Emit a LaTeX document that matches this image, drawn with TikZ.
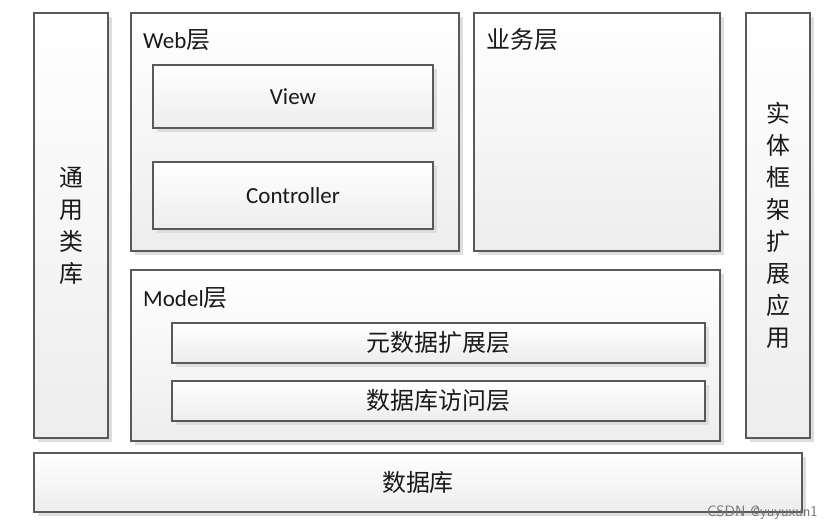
\documentclass[tikz,border=0pt]{standalone}
\usepackage{fontspec}
\setmainfont{Carlito}
\newfontfamily\cjk{Noto Sans CJK SC}[Scale=1.04]
\usetikzlibrary{shadows}
\begin{document}
\begin{tikzpicture}[x=1pt,y=-1pt,
  box/.style={draw=black!65, line width=1.2pt, top color=white, bottom color=black!7,
    drop shadow={shadow xshift=3.5pt, shadow yshift=-3.5pt, fill=black!13, opacity=1}},
  lbl/.style={font=\fontsize{23}{26}\selectfont, text=black!90, inner sep=0pt},
  vlbl/.style={font=\fontsize{23}{32}\selectfont, text=black!90, align=center, inner sep=0pt}]
\useasboundingbox (0,0) rectangle (831,530);
% outer boxes
\path[box] (34,13) rectangle (108,438) node[pos=.5, vlbl] (tongyong) {\cjk 通\\\cjk 用\\\cjk 类\\\cjk 库};
\path[box] (131,13) rectangle (459,251);
\node[lbl, anchor=west] (web) at (143,40) {Web\cjk 层};
\path[box] (153,65) rectangle (433,128) node[pos=.5, lbl] (view) {View};
\path[box] (153,162) rectangle (433,229) node[pos=.5, lbl] (ctrl) {Controller};
\path[box] (474,13) rectangle (720,251);
\node[lbl, anchor=west] (biz) at (486,40) {\cjk 业务层};
\path[box] (746,13) rectangle (810,438) node[pos=.5, vlbl] (shiti) {\cjk 实\\\cjk 体\\\cjk 框\\\cjk 架\\\cjk 扩\\\cjk 展\\\cjk 应\\\cjk 用};
\path[box] (131,270) rectangle (720,441);
\node[lbl, anchor=west] (model) at (143,298) {Model\cjk 层};
\path[box] (172,323) rectangle (705,363) node[pos=.5, lbl] (meta) {\cjk 元数据扩展层};
\path[box] (172,381) rectangle (705,421) node[pos=.5, lbl] (dao) {\cjk 数据库访问层};
\path[box] (34,453) rectangle (802,512) node[pos=.5, lbl] (db) {\cjk 数据库};
\node[anchor=east, inner sep=0pt, text=black!55, font=\sffamily\fontsize{15}{17}\selectfont] (wm) at (818,513) {CSDN @yuyuxun1};
\end{tikzpicture}
\end{document}
